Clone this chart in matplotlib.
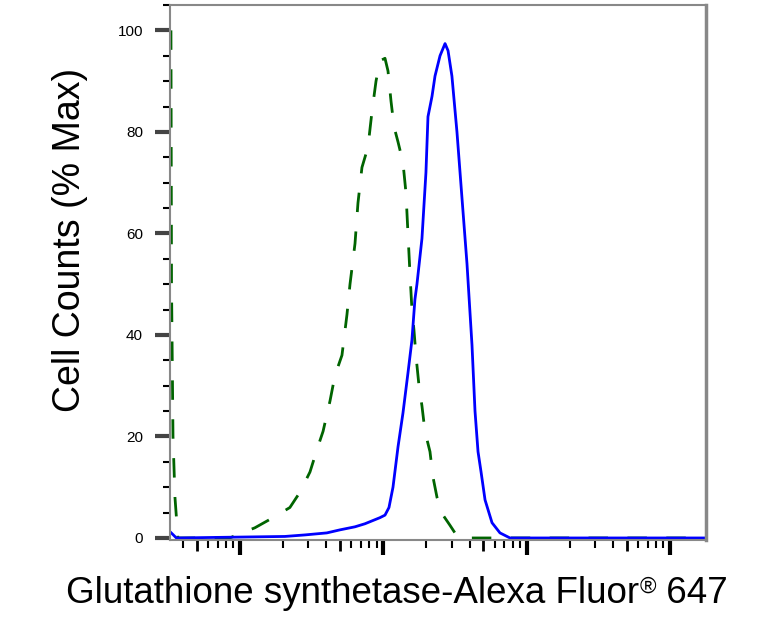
import matplotlib
matplotlib.use('Agg')
import matplotlib.pyplot as plt
from matplotlib.ticker import FixedLocator, MultipleLocator, LogLocator, NullLocator, NullFormatter

plt.rcParams['font.family'] = ['Liberation Sans', 'DejaVu Sans']

# isotype control (green dashed)
green_x = [33.0, 33.3, 34.1, 35.2, 36.9, 85, 95, 127, 170, 223, 262, 308, 350, 380, 425,
           460, 515, 558, 586, 635, 666, 710, 782, 834, 890, 948, 1028, 1079, 1133, 1189,
           1268, 1372, 1440, 1487, 1536, 1585, 1637, 1690, 1775, 1862, 1954, 2118, 2223,
           2371, 2612, 2920, 3163, 3428, 178000]
green_y = [100, 50, 20, 8, 0, 0, 0.6, 2, 4, 6, 9, 13, 18, 21, 27,
           32, 36, 44, 50, 58, 66, 73, 77, 84, 90, 94, 94.5, 92, 86, 81,
           78, 74, 68, 60, 52, 45, 41, 36, 30, 26, 21, 17, 12,
           8, 4.5, 2.5, 1, 0, 0]

# stained sample (blue solid)
blue_x = [32.6, 34.0, 36.0, 206, 284, 404, 499, 635, 745, 948, 1028, 1096, 1169, 1268,
          1372, 1487, 1585, 1663, 1718, 1862, 1985, 2051, 2188, 2296, 2489, 2698, 2831,
          3013, 3267, 3541, 3839, 4160, 4366, 4583, 4812, 5130, 5739, 6520, 7660, 178000]
blue_y = [1.2, 0.7, 0, 0.3, 0.6, 1, 1.6, 2.2, 2.8, 4, 4.5, 6, 10, 18,
          24.6, 32.5, 39, 47, 50, 59, 72, 83, 87, 91, 95, 97.4, 96,
          91, 80, 67, 54, 38, 25, 17, 13, 7.5, 3, 1, 0, 0]

y_ticks = [0, 20, 40, 60, 80, 100]
x_decades = [100, 1000, 10000, 100000]
x_fives = [50, 500, 5000, 50000]

W, H = 783, 622
fig = plt.figure(figsize=(W / 100, H / 100), dpi=100)
ax = fig.add_axes([170/W, 1 - 540/H, 536/W, 535/H])

ax.plot(green_x, green_y, color='#006400', lw=2, dashes=(7, 7))
ax.plot(blue_x, blue_y, color='#0000ff', lw=2)

ax.set_xscale('log')
ax.set_xlim(32.5, 178600)
ax.set_ylim(-0.4, 105)

ax.xaxis.set_major_locator(FixedLocator(x_decades))
ax.xaxis.set_minor_locator(LogLocator(base=10, subs=[2, 3, 4, 6, 7, 8, 9], numticks=30))
ax.xaxis.set_major_formatter(NullFormatter())
ax.xaxis.set_minor_formatter(NullFormatter())

ax.yaxis.set_major_locator(FixedLocator(y_ticks))
ax.yaxis.set_minor_locator(MultipleLocator(5))

ax.tick_params(axis='x', which='major', length=11, width=3, color='black', direction='out')
ax.tick_params(axis='x', which='minor', length=6, width=1.5, color='black', direction='out')
ax.tick_params(axis='y', which='major', length=11, width=3, color='#444444',
               labelsize=11, pad=8.5)
ax.tick_params(axis='y', which='minor', length=5, width=1.5, color='black')

sec = ax.secondary_xaxis('bottom')
sec.xaxis.set_major_locator(FixedLocator(x_fives))
sec.xaxis.set_minor_locator(NullLocator())
sec.xaxis.set_major_formatter(NullFormatter())
sec.tick_params(axis='x', which='major', length=8, width=2, color='black')
sec.spines['bottom'].set_visible(False)

for side, w in [('left', 1.5), ('bottom', 1.5), ('top', 1.5), ('right', 2.5)]:
    ax.spines[side].set_color('#888888')
    ax.spines[side].set_linewidth(w)

# x label in three pieces so the (R) mark can be small and raised
base_y = 1 - 603/H
t1 = fig.text(0, base_y, 'Glutathione synthetase-Alexa Fluor', fontsize=26.5, va='baseline')
t2 = fig.text(0, base_y + 10/H, '\u00ae', fontsize=16, va='baseline')
t3 = fig.text(0, base_y, ' 647', fontsize=26.5, va='baseline')
r = fig.canvas.get_renderer()
w1 = t1.get_window_extent(r).width
w2 = t2.get_window_extent(r).width
w3 = t3.get_window_extent(r).width
x0 = 397 - (w1 + w2 + w3) / 2
t1.set_x(x0 / W)
t2.set_x((x0 + w1) / W)
t3.set_x((x0 + w1 + w2) / W)

fig.text(70/W, 1 - 240/H, 'Cell Counts (% Max)', fontsize=27, rotation=90,
         ha='center', va='center')

fig.savefig('out.png', dpi=100)
